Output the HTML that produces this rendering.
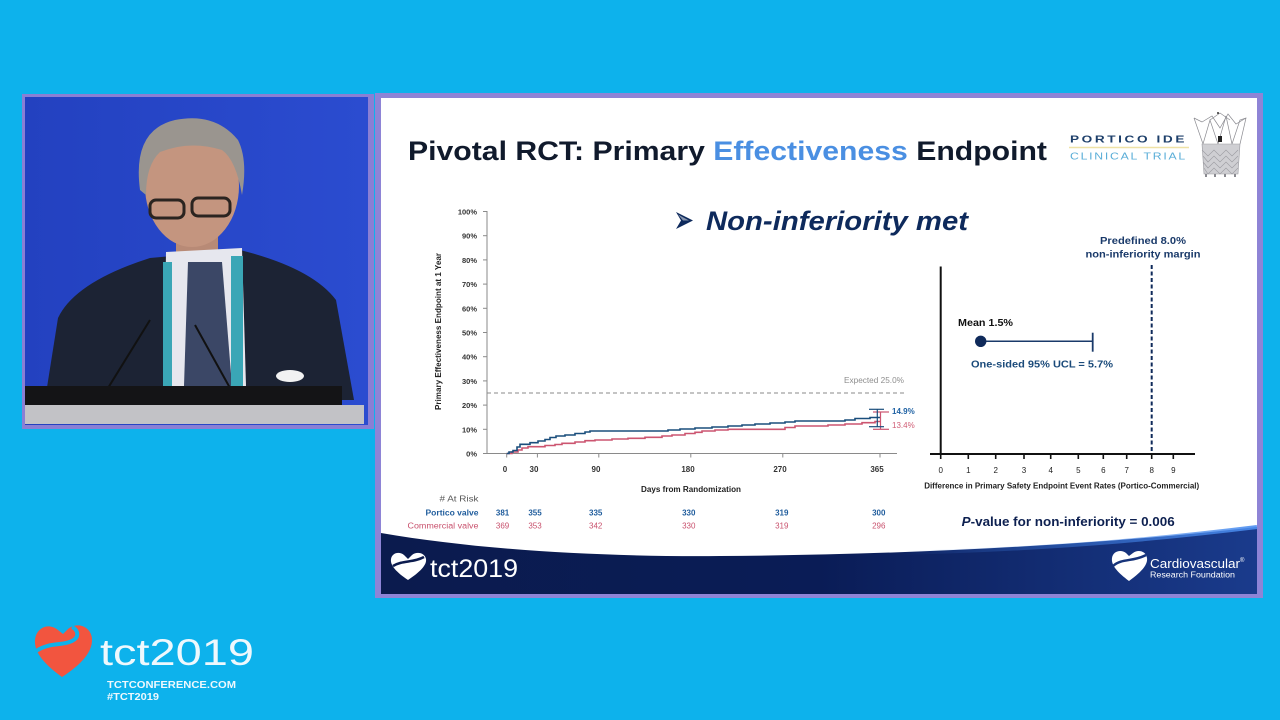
<!DOCTYPE html>
<html>
<head>
<meta charset="utf-8">
<style>
  html,body{margin:0;padding:0;background:#0db2ec;}
  svg{display:block;}
  text{font-family:"Liberation Sans", Arial, sans-serif;}
</style>
</head>
<body>
<svg xmlns="http://www.w3.org/2000/svg" width="1280" height="720" viewBox="0 0 1280 720">
  <defs>
    <linearGradient id="ban" x1="0" y1="0" x2="1" y2="0">
      <stop offset="0" stop-color="#0b1b4e"/>
      <stop offset="0.5" stop-color="#0a1c56"/>
      <stop offset="1" stop-color="#1a3b8c"/>
    </linearGradient>
    <linearGradient id="hl" x1="0" y1="0" x2="1" y2="0">
      <stop offset="0" stop-color="#3a7ae0" stop-opacity="0"/>
      <stop offset="1" stop-color="#4b8ef0" stop-opacity="0.9"/>
    </linearGradient>
    <linearGradient id="spk" x1="0" y1="0" x2="1" y2="0">
      <stop offset="0" stop-color="#2341c0"/>
      <stop offset="1" stop-color="#2b4cd0"/>
    </linearGradient>
  </defs>

  <!-- background -->
  <rect x="0" y="0" width="1280" height="720" fill="#0db2ec"/>

  <!-- speaker frame -->
  <rect x="22" y="94" width="352" height="335" fill="#8a7fd4"/>
  <rect x="25" y="97" width="343" height="328" fill="url(#spk)"/>
  <!-- person -->
  <path d="M45,400 L58,318 Q75,282 150,258 L240,250 Q312,268 336,300 L354,400 Z" fill="#1c2334"/>
  <rect x="176" y="228" width="42" height="30" fill="#b88a76"/>
  <polygon points="166,252 242,248 246,386 164,386" fill="#e6e7ee"/>
  <polygon points="188,262 222,262 232,386 184,386" fill="#3b4766"/>
  <rect x="163" y="262" width="9" height="124" fill="#3aa6b6"/>
  <rect x="231" y="256" width="12" height="130" fill="#3aa6b6"/>
  <ellipse cx="192" cy="186" rx="47" ry="61" fill="#c4957f"/>
  <path d="M140,190 Q132,130 175,120 Q215,112 238,140 Q248,160 242,195 Q236,160 222,150 Q190,140 160,152 Q146,165 146,195 Z" fill="#9a958f"/>
  <rect x="150" y="200" width="34" height="18" rx="6" fill="none" stroke="#2b2420" stroke-width="3"/>
  <rect x="192" y="198" width="38" height="18" rx="6" fill="none" stroke="#2b2420" stroke-width="3"/>
  <line x1="150" y1="320" x2="108" y2="388" stroke="#111" stroke-width="2"/>
  <line x1="195" y1="325" x2="230" y2="388" stroke="#111" stroke-width="2"/>
  <ellipse cx="290" cy="376" rx="14" ry="6" fill="#f2f2f2"/>
  <rect x="25" y="386" width="317" height="20" fill="#141416"/>
  <rect x="25" y="405" width="339" height="19" fill="#c2c2c6"/>

  <!-- slide frame -->
  <rect x="375" y="93" width="888" height="505" fill="#8e84d6"/>
  <rect x="381" y="98" width="876" height="496" fill="#ffffff"/>

  <!-- title -->
  <text x="408" y="160" font-size="27" font-weight="bold" fill="#101a2c" textLength="639" lengthAdjust="spacingAndGlyphs">Pivotal RCT: Primary <tspan fill="#4a8fe2">Effectiveness</tspan> Endpoint</text>

  <!-- Portico logo -->
  <text x="1070" y="142.5" font-size="10.5" font-weight="bold" fill="#1d3f6a" textLength="117" lengthAdjust="spacingAndGlyphs" letter-spacing="2">PORTICO IDE</text>
  <line x1="1069" y1="147.5" x2="1189" y2="147.5" stroke="#efe2a6" stroke-width="1.5"/>
  <text x="1070" y="159.5" font-size="10.5" fill="#5aaed8" textLength="117" lengthAdjust="spacingAndGlyphs" letter-spacing="1.5">CLINICAL TRIAL</text>
  <!-- valve -->
  <g stroke="#8a8a90" stroke-width="0.7" fill="none">
    <path d="M1194,118 L1203,144 L1210,120 L1218,144 L1226,116 L1232,144 L1240,120 L1246,118 L1240,144"/>
    <path d="M1194,118 L1202,122 L1212,116 L1220,128 L1228,114 L1236,124 L1246,118"/>
    <path d="M1210,120 L1220,113 L1230,120"/>
  </g>
  <rect x="1218" y="136" width="4" height="6" fill="#222"/>
  <circle cx="1218" cy="113" r="1" fill="#333"/>
  <path d="M1202,144 L1240,144 L1238,174 L1204,174 Z" fill="#cfcfd3" stroke="#9a9aa0" stroke-width="0.6"/>
  <g stroke="#9a9aa0" stroke-width="0.6" fill="none">
    <path d="M1202,150 L1208,156 L1214,150 L1220,156 L1226,150 L1232,156 L1238,150"/>
    <path d="M1203,156 L1208,162 L1214,156 L1220,162 L1226,156 L1232,162 L1238,156"/>
    <path d="M1203,162 L1208,168 L1214,162 L1220,168 L1226,162 L1232,168 L1238,162"/>
    <path d="M1204,168 L1208,174 L1214,168 L1220,174 L1226,168 L1232,174 L1238,168"/>
  </g>
  <g fill="#8a8a90"><rect x="1205" y="174" width="2" height="3"/><rect x="1214" y="174" width="2" height="3"/><rect x="1224" y="174" width="2" height="3"/><rect x="1234" y="174" width="2" height="3"/></g>

  <!-- Non-inferiority met -->
  <polygon points="676,212 693,220.5 676,229 681,220.5" fill="#0e2a5c"/>
  <polygon points="678,214.5 689,220.5 683,220.5" fill="#ffffff" opacity="0.5"/>
  <text x="706" y="230" font-size="27" font-weight="bold" font-style="italic" fill="#0e2a5c" textLength="262" lengthAdjust="spacingAndGlyphs">Non-inferiority met</text>

  <!-- KM chart axes -->
  <line x1="487" y1="211" x2="487" y2="454" stroke="#8a8a8a" stroke-width="1"/>
  <line x1="487" y1="453.5" x2="897" y2="453.5" stroke="#8a8a8a" stroke-width="1"/>
  <g stroke="#8a8a8a" stroke-width="1">
    <line x1="483" y1="453.5" x2="487" y2="453.5"/>
    <line x1="483" y1="429.3" x2="487" y2="429.3"/>
    <line x1="483" y1="405.1" x2="487" y2="405.1"/>
    <line x1="483" y1="380.9" x2="487" y2="380.9"/>
    <line x1="483" y1="356.7" x2="487" y2="356.7"/>
    <line x1="483" y1="332.5" x2="487" y2="332.5"/>
    <line x1="483" y1="308.3" x2="487" y2="308.3"/>
    <line x1="483" y1="284.1" x2="487" y2="284.1"/>
    <line x1="483" y1="259.9" x2="487" y2="259.9"/>
    <line x1="483" y1="235.7" x2="487" y2="235.7"/>
    <line x1="483" y1="211.5" x2="487" y2="211.5"/>
    <line x1="506.7" y1="453.5" x2="506.7" y2="457.5"/>
    <line x1="537.4" y1="453.5" x2="537.4" y2="457.5"/>
    <line x1="598.8" y1="453.5" x2="598.8" y2="457.5"/>
    <line x1="690.8" y1="453.5" x2="690.8" y2="457.5"/>
    <line x1="782.8" y1="453.5" x2="782.8" y2="457.5"/>
    <line x1="880" y1="453.5" x2="880" y2="457.5"/>
  </g>
  <g font-size="7.5" font-weight="bold" fill="#333" text-anchor="end">
    <text x="477" y="456.5">0%</text>
    <text x="477" y="432.3">10%</text>
    <text x="477" y="408.1">20%</text>
    <text x="477" y="383.9">30%</text>
    <text x="477" y="359.7">40%</text>
    <text x="477" y="335.5">50%</text>
    <text x="477" y="311.3">60%</text>
    <text x="477" y="287.1">70%</text>
    <text x="477" y="262.9">80%</text>
    <text x="477" y="238.7">90%</text>
    <text x="477" y="214.5">100%</text>
  </g>
  <g font-size="8" font-weight="bold" fill="#333" text-anchor="middle">
    <text x="505" y="472">0</text>
    <text x="534" y="472">30</text>
    <text x="596" y="472">90</text>
    <text x="688" y="472">180</text>
    <text x="780" y="472">270</text>
    <text x="877" y="472">365</text>
  </g>
  <text x="691" y="492" font-size="8" font-weight="bold" fill="#222" text-anchor="middle" textLength="100" lengthAdjust="spacingAndGlyphs">Days from Randomization</text>
  <text transform="translate(441,331.5) rotate(-90)" font-size="8" font-weight="bold" fill="#222" text-anchor="middle" textLength="157" lengthAdjust="spacingAndGlyphs">Primary Effectiveness Endpoint at 1 Year</text>

  <!-- expected line -->
  <line x1="487" y1="393" x2="907" y2="393" stroke="#8a8a8a" stroke-width="1" stroke-dasharray="4,3"/>
  <text x="904" y="383" font-size="8" fill="#8e8e8e" text-anchor="end" textLength="60" lengthAdjust="spacingAndGlyphs">Expected 25.0%</text>

  <!-- curves -->
  <path d="M506.7,453.5 H512 V452 H518 V450 H522 V448 H528 V446.7 H545 V445.5 H555 V444.5 H562 V443.3 H575 V442 H585 V440.7 H595 V440 H612 V439 H628 V438.3 H645 V437.3 H662 V436 H672 V435 H685 V433.5 H695 V432.3 H702 V431 H715 V430 H728 V429.3 H785 V427.5 H795 V426 H828 V425 H845 V424 H862 V422.7 H875 V421.5 H880" fill="none" stroke="#cc5570" stroke-width="1.6"/>
  <path d="M506.7,453.5 H509 V452 H513 V450.5 H517 V447 H520 V444.3 H530 V442.7 H538 V441 H545 V439.5 H550 V437.5 H556 V436 H565 V435 H575 V433.5 H585 V432 H590 V431 H668 V430 H680 V429 H695 V428 H712 V427 H728 V426 H742 V425 H755 V424 H770 V423 H785 V422 H795 V421 H845 V420 H855 V418.5 H870 V417.5 H880" fill="none" stroke="#1a4e7c" stroke-width="1.6"/>

  <!-- error bars -->
  <g stroke="#cc5570" stroke-width="1.2">
    <line x1="880.5" y1="412" x2="880.5" y2="429.3"/>
    <line x1="873" y1="412" x2="889" y2="412"/>
    <line x1="873" y1="429.3" x2="889" y2="429.3"/>
  </g>
  <g stroke="#1a4e7c" stroke-width="1.2">
    <line x1="877.3" y1="409.3" x2="877.3" y2="426.7"/>
    <line x1="869" y1="409.3" x2="884" y2="409.3"/>
    <line x1="869" y1="426.7" x2="884" y2="426.7"/>
  </g>
  <text x="892" y="414" font-size="8" font-weight="bold" fill="#1f62a4">14.9%</text>
  <text x="892" y="428" font-size="8" fill="#d05d75">13.4%</text>

  <!-- at risk table -->
  <g font-size="8" text-anchor="end">
    <text x="478.5" y="501.5" fill="#555" textLength="39" lengthAdjust="spacingAndGlyphs"># At Risk</text>
    <text x="478.5" y="515.5" fill="#1f5c9c" font-weight="bold" textLength="53" lengthAdjust="spacingAndGlyphs">Portico valve</text>
    <text x="478.5" y="528.5" fill="#c8506c" textLength="71" lengthAdjust="spacingAndGlyphs">Commercial valve</text>
  </g>
  <g font-size="8" text-anchor="middle" fill="#1f5c9c" font-weight="bold">
    <text x="502.6" y="515.5">381</text>
    <text x="535" y="515.5">355</text>
    <text x="595.7" y="515.5">335</text>
    <text x="688.8" y="515.5">330</text>
    <text x="781.8" y="515.5">319</text>
    <text x="878.8" y="515.5">300</text>
  </g>
  <g font-size="8" text-anchor="middle" fill="#c8506c">
    <text x="502.6" y="528.5">369</text>
    <text x="535" y="528.5">353</text>
    <text x="595.7" y="528.5">342</text>
    <text x="688.8" y="528.5">330</text>
    <text x="781.8" y="528.5">319</text>
    <text x="878.8" y="528.5">296</text>
  </g>

  <!-- right chart -->
  <line x1="940.7" y1="266.5" x2="940.7" y2="453" stroke="#111" stroke-width="2"/>
  <line x1="930" y1="454" x2="1195" y2="454" stroke="#111" stroke-width="2"/>
  <g stroke="#111" stroke-width="1.6">
    <line x1="940.7" y1="454" x2="940.7" y2="459"/>
    <line x1="968.3" y1="454" x2="968.3" y2="459"/>
    <line x1="995.7" y1="454" x2="995.7" y2="459"/>
    <line x1="1024" y1="454" x2="1024" y2="459"/>
    <line x1="1050.7" y1="454" x2="1050.7" y2="459"/>
    <line x1="1078.3" y1="454" x2="1078.3" y2="459"/>
    <line x1="1103.3" y1="454" x2="1103.3" y2="459"/>
    <line x1="1126.7" y1="454" x2="1126.7" y2="459"/>
    <line x1="1151.7" y1="454" x2="1151.7" y2="459"/>
    <line x1="1173.3" y1="454" x2="1173.3" y2="459"/>
  </g>
  <g font-size="8" fill="#222" text-anchor="middle">
    <text x="940.7" y="473">0</text>
    <text x="968.3" y="473">1</text>
    <text x="995.7" y="473">2</text>
    <text x="1024" y="473">3</text>
    <text x="1050.7" y="473">4</text>
    <text x="1078.3" y="473">5</text>
    <text x="1103.3" y="473">6</text>
    <text x="1126.7" y="473">7</text>
    <text x="1151.7" y="473">8</text>
    <text x="1173.3" y="473">9</text>
  </g>
  <text x="1061.7" y="488.5" font-size="8" font-weight="bold" fill="#222" text-anchor="middle" textLength="275" lengthAdjust="spacingAndGlyphs">Difference in Primary Safety Endpoint Event Rates (Portico-Commercial)</text>
  <line x1="1151.7" y1="265" x2="1151.7" y2="452" stroke="#0f2a5a" stroke-width="2" stroke-dasharray="4,2.5"/>
  <text x="1143" y="244" font-size="10" font-weight="bold" fill="#1a3a6a" text-anchor="middle" textLength="86" lengthAdjust="spacingAndGlyphs">Predefined 8.0%</text>
  <text x="1143" y="257.5" font-size="10" font-weight="bold" fill="#1a3a6a" text-anchor="middle" textLength="115" lengthAdjust="spacingAndGlyphs">non-inferiority margin</text>
  <text x="958" y="326" font-size="10" font-weight="bold" fill="#111" textLength="55" lengthAdjust="spacingAndGlyphs">Mean 1.5%</text>
  <line x1="980.7" y1="341.3" x2="1092.7" y2="341.3" stroke="#1a3a6a" stroke-width="1.5"/>
  <line x1="1092.7" y1="332.7" x2="1092.7" y2="351.7" stroke="#1a3a6a" stroke-width="1.8"/>
  <circle cx="980.7" cy="341.3" r="5.7" fill="#0f2a5a"/>
  <text x="971" y="367.5" font-size="10" font-weight="bold" fill="#1a4a7a" textLength="142" lengthAdjust="spacingAndGlyphs">One-sided 95% UCL = 5.7%</text>
  <text x="961.7" y="526" font-size="13" font-weight="bold" fill="#0d2050" textLength="213" lengthAdjust="spacingAndGlyphs"><tspan font-style="italic">P</tspan>-value for non-inferiority = 0.006</text>

  <!-- bottom banner -->
  <path d="M381,533 C480,550 600,557 720,556 C900,555 1100,545 1257,527 L1257,594 L381,594 Z" fill="url(#ban)"/>
  <path d="M900,553 C1050,549 1150,540 1257,527" fill="none" stroke="url(#hl)" stroke-width="4"/>
  <!-- tct heart in banner -->
  <path d="M408,580 C396,572 390,565 391,559 C392,553 399,551 404,555 L408,559 L412,555 C417,551 425,553 426,559 C427,565 420,572 408,580 Z" fill="#ffffff"/>
  <path d="M393,566 C403,560 413,563 424,557" fill="none" stroke="#0b1b4e" stroke-width="2.5"/>
  <text x="430" y="577" font-size="25" fill="#ffffff" textLength="88" lengthAdjust="spacingAndGlyphs">tct2019</text>
  <!-- CRF logo -->
  <path d="M1129,581 C1117,572 1111,565 1112,558 C1113,551 1121,549 1126,553 L1129,556 L1133,553 C1138,549 1146,551 1147,558 C1148,565 1141,572 1129,581 Z" fill="#ffffff"/>
  <path d="M1113,566 C1122,558 1133,562 1146,555" fill="none" stroke="#16337a" stroke-width="2.5"/>
  <text x="1150" y="568" font-size="12.5" fill="#ffffff" textLength="90" lengthAdjust="spacingAndGlyphs">Cardiovascular</text>
  <text x="1240" y="562" font-size="6" fill="#ffffff">®</text>
  <text x="1150" y="577.5" font-size="8.5" fill="#ffffff" textLength="85" lengthAdjust="spacingAndGlyphs">Research Foundation</text>

  <!-- bottom-left tct logo -->
  <path d="M62,677 C44,664 34,652 35,640 C36,628 48,622 58,630 L63,634 L68,629 C78,621 92,627 92,640 C92,652 82,664 62,677 Z" fill="#f2553f"/>
  <path d="M36,651 C50,642 62,646 72,641 C80,637 78,630 72,627" fill="none" stroke="#0db2ec" stroke-width="4"/>
  <text x="100" y="665" font-size="37" fill="#eef8fd" textLength="154" lengthAdjust="spacingAndGlyphs">tct2019</text>
  <text x="107" y="688" font-size="10" font-weight="bold" fill="#eef8fd" textLength="129" lengthAdjust="spacingAndGlyphs">TCTCONFERENCE.COM</text>
  <text x="107" y="700" font-size="10" font-weight="bold" fill="#eef8fd" textLength="52" lengthAdjust="spacingAndGlyphs">#TCT2019</text>
</svg>
</body>
</html>
